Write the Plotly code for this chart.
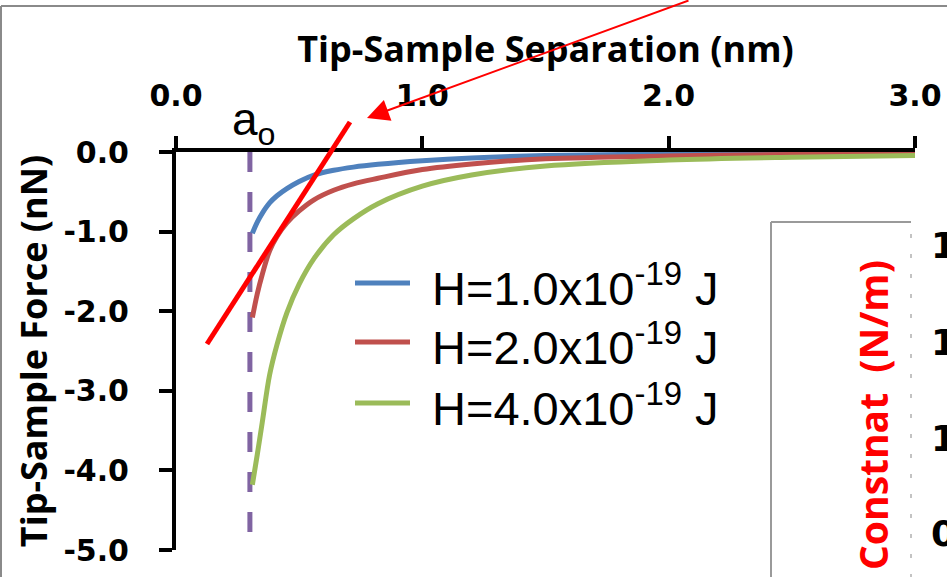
import plotly.graph_objects as go

# ---------------- data ----------------
separation_nm = [0.31, 0.33, 0.35, 0.38, 0.41, 0.45, 0.50, 0.56, 0.64, 0.72, 0.82, 1.0, 1.2, 1.5, 2.0, 2.5, 3.0]
force_h1 = [-1.02, -0.88, -0.77, -0.64, -0.55, -0.46, -0.37, -0.29, -0.23, -0.19, -0.155, -0.11, -0.075, -0.045, -0.025, -0.016, -0.011]
force_h2 = [-2.08, -1.78, -1.54, -1.24, -1.06, -0.89, -0.74, -0.60, -0.48, -0.40, -0.33, -0.22, -0.15, -0.085, -0.05, -0.032, -0.022]
force_h4 = [-4.18, -3.80, -3.40, -2.80, -2.42, -2.02, -1.66, -1.34, -1.04, -0.84, -0.65, -0.43, -0.29, -0.175, -0.10, -0.065, -0.045]
series_names = ["H=1.0x10<sup>-19</sup> J", "H=2.0x10<sup>-19</sup> J", "H=4.0x10<sup>-19</sup> J"]
series_colors = ["#4F81BD", "#C0504D", "#9BBB59"]
a0_nm = 0.3

x_tick_vals = [0, 1, 2, 3]
x_tick_text = ["0.0", "1.0", "2.0", "3.0"]
y_tick_vals = [0, -1, -2, -3, -4, -5]
y_tick_text = ["0.0", "-1.0", "-2.0", "-3.0", "-4.0", "-5.0"]
inset_tick_text = ["1", "1", "1", "0"]

# ---------------- layout geometry (pixels) ----------------
W, H = 947, 577
L, R, T, B = 176, 915, 152, 550


def px(x):
    return (x - L) / (R - L)


def py(y):
    return (B - y) / (B - T)


TICK_FONT = dict(family="DejaVu Sans", size=30, color="black", weight="bold")
TITLE_FONT = dict(family="Open Sans", size=36, color="black", weight="bold")

fig = go.Figure()
for name, ys, col in zip(series_names, [force_h1, force_h2, force_h4], series_colors):
    fig.add_trace(go.Scatter(x=separation_nm, y=ys, mode="lines", name=name,
                             line=dict(color=col, width=5, shape="spline", smoothing=1.0),
                             showlegend=False))

shapes = []
# outer chart frame
shapes.append(dict(type="line", xref="paper", yref="paper", x0=px(1), x1=px(960), y0=py(6), y1=py(6),
                   line=dict(color="#8a8a8a", width=2)))
shapes.append(dict(type="line", xref="paper", yref="paper", x0=px(1), x1=px(1), y0=py(6), y1=py(590),
                   line=dict(color="#8a8a8a", width=2)))
# inset chart box
shapes.append(dict(type="rect", xref="paper", yref="paper", x0=px(771), x1=px(960), y0=py(222), y1=py(600),
                   fillcolor="white", line=dict(width=0), layer="above"))
shapes.append(dict(type="line", xref="paper", yref="paper", x0=px(771), x1=px(911), y0=py(222), y1=py(222),
                   line=dict(color="#9a9a9a", width=2)))
shapes.append(dict(type="line", xref="paper", yref="paper", x0=px(771), x1=px(771), y0=py(222), y1=py(600),
                   line=dict(color="#9a9a9a", width=2)))
shapes.append(dict(type="line", xref="paper", yref="paper", x0=px(911), x1=px(911), y0=py(234), y1=py(577),
                   line=dict(color="#b0b0b0", width=1.5, dash="4px,16px")))
# a0 dashed line
shapes.append(dict(type="line", xref="x", yref="y", x0=a0_nm, x1=a0_nm, y0=0, y1=-5,
                   line=dict(color="#8064A2", width=5, dash="20px,20px"), layer="below"))
# tangent line
shapes.append(dict(type="line", xref="paper", yref="paper", x0=px(207), y0=py(344), x1=px(350), y1=py(122),
                   line=dict(color="#FF0000", width=5)))
# custom legend lines
legend_y = [283, 342, 403]
for ly, col in zip(legend_y, series_colors):
    shapes.append(dict(type="line", xref="paper", yref="paper", x0=px(355), x1=px(410), y0=py(ly), y1=py(ly),
                       line=dict(color=col, width=5)))

annotations = []
for ly, name in zip(legend_y, series_names):
    annotations.append(dict(xref="paper", yref="paper", x=px(430), y=py(ly + 2), text=name, showarrow=False,
                            xanchor="left", yanchor="middle",
                            font=dict(family="Liberation Sans", size=47, color="black")))
# a0 label
annotations.append(dict(xref="paper", yref="paper", x=px(230), y=py(122), text="a<sub>o</sub>", showarrow=False,
                        xanchor="left", yanchor="middle",
                        font=dict(family="Liberation Sans", size=46, color="black")))
# red arrow
annotations.append(dict(xref="paper", yref="paper", x=px(367), y=py(118), text="", showarrow=True,
                        ax=323, ay=-123, arrowhead=2, arrowsize=2.2, arrowwidth=2, arrowcolor="#FF0000"))
# inset y title
annotations.append(dict(xref="paper", yref="paper", x=px(872), y=py(415), text="Constnat  (N/m)", showarrow=False,
                        textangle=-90, xanchor="center", yanchor="middle",
                        font=dict(family="Open Sans", size=39, color="#FF0000", weight="bold")))
for ty, tt in zip([245, 342, 438, 533], inset_tick_text):
    annotations.append(dict(xref="paper", yref="paper", x=px(929), y=py(ty), text=tt, showarrow=False,
                            xanchor="left", yanchor="middle",
                            font=dict(family="DejaVu Sans", size=36, color="black", weight="bold")))

fig.update_layout(
    width=W, height=H,
    margin=dict(l=L, r=W - R, t=T, b=H - B, pad=0, autoexpand=False),
    paper_bgcolor="white", plot_bgcolor="white",
    showlegend=False,
    shapes=shapes, annotations=annotations,
    xaxis=dict(range=[0, 3], side="top", showgrid=False, zeroline=False, automargin=False,
               showline=True, linecolor="black", linewidth=4,
               ticks="outside", ticklen=12, tickwidth=4, tickcolor="black",
               tickvals=x_tick_vals, ticktext=x_tick_text, tickfont=TICK_FONT,
               ticklabelstandoff=18,
               title=dict(text="Tip-Sample Separation (nm)", font=TITLE_FONT, standoff=5)),
    yaxis=dict(range=[-5, 0], showgrid=False, zeroline=False, automargin=False,
               showline=True, linecolor="black", linewidth=4,
               ticks="outside", ticklen=13, tickwidth=4, tickcolor="black",
               tickvals=y_tick_vals, ticktext=y_tick_text, tickfont=TICK_FONT,
               ticklabelstandoff=24,
               title=dict(text="Tip-Sample Force (nN)", font=TITLE_FONT, standoff=6)),
)

fig.write_html("out.html", config={"displayModeBar": False},
               post_script="document.body.style.margin='0';document.body.style.overflow='hidden';")
